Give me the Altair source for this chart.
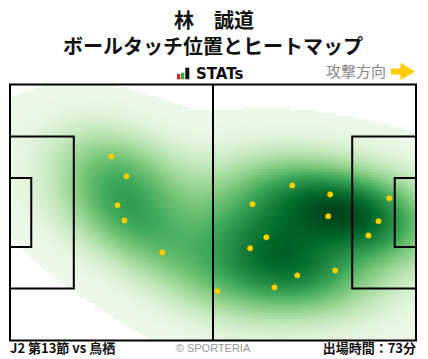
import numpy as np
import pandas as pd
import altair as alt

# ---- data (pitch metres, x: 0-105 left->right, y: 0-68 from top) ----
touch_x = [26.2, 30.1, 27.8, 29.6, 39.4, 53.6, 62.1, 62.7, 66.3, 68.4,
           73.0, 74.3, 82.8, 82.3, 84.1, 92.7, 95.3, 98.1]
touch_y = [19.1, 24.4, 32.1, 36.1, 44.6, 54.9, 43.5, 31.8, 40.6, 53.9,
           26.8, 50.7, 29.2, 35.0, 49.4, 40.1, 36.3, 30.2]

player = "林　誠道"
subtitle = "ボールタッチ位置とヒートマップ"
match_label = "J2 第13節 vs 鳥栖"
minutes_label = "出場時間：73分"

# pitch lines (x0, x1, y0, y1)
line_x0 = [0, 0, 0, 88.5, 99.5]
line_x1 = [105, 16.5, 5.5, 105, 105]
line_y0 = [0, 13.84, 24.84, 13.84, 24.84]
line_y1 = [68, 54.16, 43.16, 54.16, 43.16]

greens = ["#f7fcf5", "#e5f5e0", "#c7e9c0", "#a1d99b", "#74c476",
          "#41ab5d", "#238b45", "#006d2c", "#00441b"]

# ---- heat map: gaussian KDE of the touches on a grid ----
sx, sy, rho = 12.5, 8.0, 0.3
cov = np.array([[sx * sx, rho * sx * sy], [rho * sx * sy, sy * sy]])
inv = np.linalg.inv(cov)
step = 0.75
gx, gy = np.meshgrid(np.arange(0, 105, step), np.arange(0, 68, step))
cx, cy = gx + step / 2, gy + step / 2
dens = np.zeros_like(cx)
for tx, ty in zip(touch_x, touch_y):
    dx = cx - tx
    dy = cy - ty
    q = inv[0, 0] * dx * dx + 2 * inv[0, 1] * dx * dy + inv[1, 1] * dy * dy
    dens += np.exp(-0.5 * q)
dens = dens / dens.max()
mask = dens > 0.012
heat = pd.DataFrame({
    "x0": gx[mask], "x1": gx[mask] + step * 1.35,
    "y0": gy[mask], "y1": gy[mask] + step * 1.35,
    "v": 0.05 + 0.95 * dens[mask],
})

xs = alt.Scale(domain=[0, 105], nice=False, zero=False)
ys = alt.Scale(domain=[0, 68], nice=False, zero=False, reverse=True)

heat_layer = alt.Chart(heat).mark_rect(clip=True).encode(
    x=alt.X("x0:Q", scale=xs, axis=None),
    x2="x1:Q",
    y=alt.Y("y0:Q", scale=ys, axis=None),
    y2="y1:Q",
    color=alt.Color("v:Q", scale=alt.Scale(domain=list(np.linspace(0, 1, 9)), range=greens),
                    legend=None),
)

lines = pd.DataFrame({"x0": line_x0, "x1": line_x1, "y0": line_y0, "y1": line_y1})
line_layer = alt.Chart(lines).mark_rect(fill=None, stroke="black", strokeWidth=2).encode(
    x=alt.X("x0:Q", scale=xs, axis=None), x2="x1:Q",
    y=alt.Y("y0:Q", scale=ys, axis=None), y2="y1:Q",
)

half = pd.DataFrame({"x": [52.5], "y0": [0], "y1": [68]})
half_layer = alt.Chart(half).mark_rule(stroke="black", strokeWidth=2).encode(
    x=alt.X("x:Q", scale=xs, axis=None),
    y=alt.Y("y0:Q", scale=ys, axis=None), y2="y1:Q",
)

touches = pd.DataFrame({"x": touch_x, "y": touch_y})
pt_layer = alt.Chart(touches).mark_circle(size=30, color="#FFD200", opacity=1,
                                          stroke="#E8B800", strokeWidth=0.5).encode(
    x=alt.X("x:Q", scale=xs, axis=None),
    y=alt.Y("y:Q", scale=ys, axis=None),
)

one = pd.DataFrame({"a": [0]})
FONT = "Noto Sans CJK JP"

def txt(text, x, y, size, weight="bold", color="#111", align="center", font=FONT):
    return alt.Chart(one).mark_text(text=text, fontSize=size, fontWeight=weight, color=color,
                                    align=align, baseline="middle", font=font).encode(
        x=alt.value(x), y=alt.value(y))

t1 = txt(player, 204, -62.5, 20)
t2 = txt(subtitle, 203, -37, 20)
t3 = txt("STATs", 186, -10.5, 15, align="left", font="DejaVu Sans")
t4 = txt("攻撃方向", 316, -12.5, 15, weight="normal", color="#888888", align="left")
t5 = txt(match_label, 0, 264.5, 13, align="left")
t6 = txt("© SPORTERIA", 203, 264, 11, weight="normal", color="#999999", font="Liberation Sans")
t7 = txt(minutes_label, 406, 264.5, 13, align="right")

def bar(x0, x1, y0, y1, color):
    return alt.Chart(one).mark_rect(color=color).encode(
        x=alt.value(x0), x2=alt.value(x1), y=alt.value(y0), y2=alt.value(y1))

logo = bar(167, 170.3, -10.5, -5.2, "#E02020") + bar(171, 174.3, -11.8, -5.2, "#2DB04A") + \
    bar(175.3, 179.3, -16.8, -5.2, "#111111")

arrow_path = "M -1 -0.25 L -0.2 -0.25 L -0.2 -0.7 L 1 0 L -0.2 0.7 L -0.2 0.25 L -1 0.25 Z"
arrow = alt.Chart(one).mark_point(shape=arrow_path, filled=True, size=576, color="#FFCC00",
                                  opacity=1).encode(x=alt.value(393), y=alt.value(-13))

chart = alt.layer(
    heat_layer, line_layer, half_layer, pt_layer,
    t1, t2, t3, t4, t5, t6, t7, logo, arrow,
).properties(
    width=406, height=256,
    autosize=alt.AutoSizeParams(type="none"),
    padding={"left": 2, "top": 76.5, "right": 4, "bottom": 22},
).configure_view(stroke=None)

chart.save("out.html", embed_options={"renderer": "svg", "actions": False})
